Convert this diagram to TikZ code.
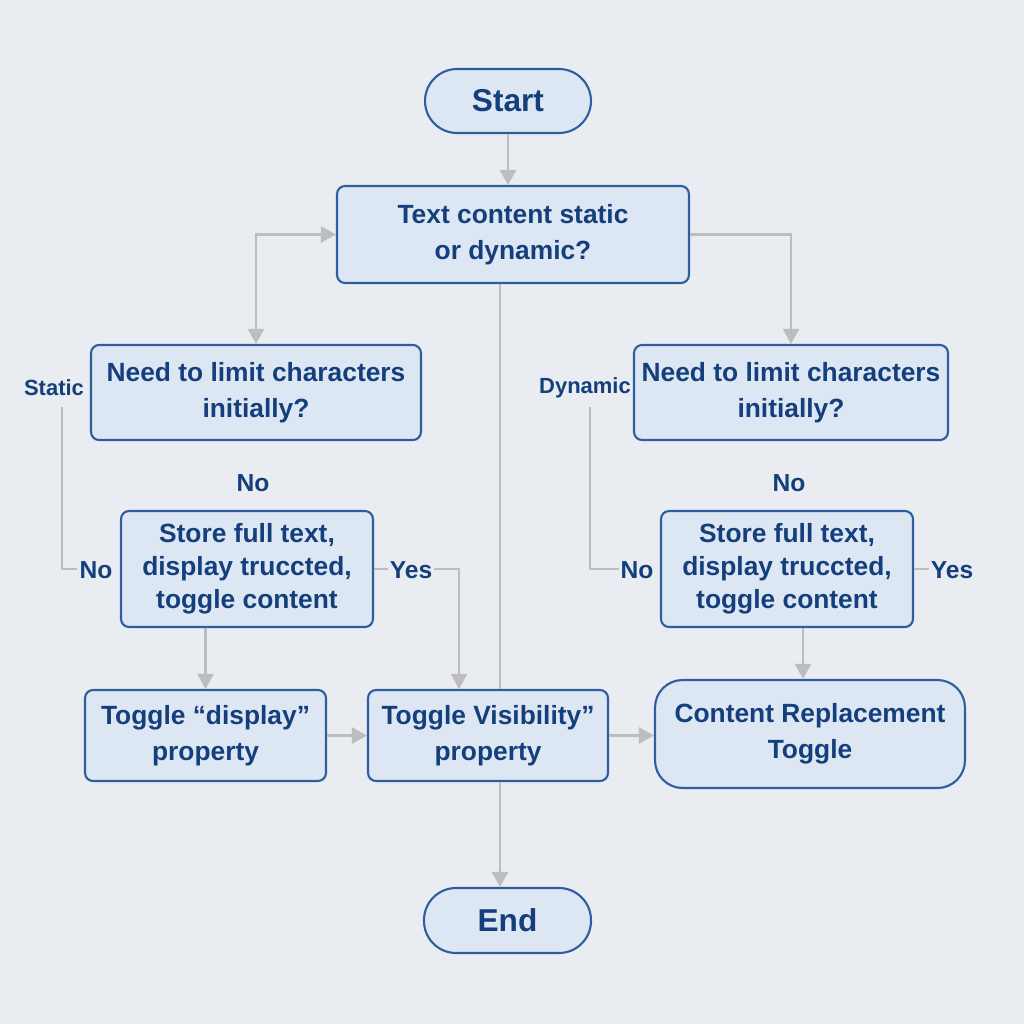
\documentclass[tikz,border=0pt]{standalone}
\usepackage{fontspec}
\setmainfont{Liberation Sans}
\usetikzlibrary{arrows.meta}
\definecolor{fondo}{HTML}{E9ECF0}
\definecolor{relleno}{HTML}{DDE7F3}
\definecolor{borde}{HTML}{2E5E9F}
\definecolor{texto}{HTML}{143F7C}
\definecolor{gris}{HTML}{BDBDBD}
\tikzset{
  caja/.style={draw=borde, fill=relleno, line width=1.2pt, rounded corners=0.16cm,
    align=center, text=texto, inner sep=2pt,
    font=\bfseries\fontsize{15}{20.5}\selectfont},
  tres/.style={caja, font=\bfseries\fontsize{15}{18.7}\selectfont},
  terminal/.style={caja, rounded corners=0.64cm, font=\bfseries\fontsize{18}{20}\selectfont},
  etiqueta/.style={text=texto, inner sep=1pt, font=\bfseries\fontsize{14}{16}\selectfont},
  chica/.style={etiqueta, font=\bfseries\fontsize{12.5}{14}\selectfont},
  linea/.style={draw=gris, line width=1.3pt},
  flecha/.style={linea, -{Triangle[width=0.32cm,length=0.3cm]}},
}
\begin{document}
\begin{tikzpicture}[x=0.02cm, y=-0.02cm]
        % Fondo
        \fill[fondo] (0,0) rectangle (1024,1024);
        % Nodos
        \node[terminal, minimum width=3.32cm, minimum height=1.28cm] (inicio) at (508,101) {Start};
        \node[caja, minimum width=7.04cm, minimum height=1.94cm] (pregunta) at (513,234.5) {Text content static\\or dynamic?};
        \node[caja, minimum width=6.6cm, minimum height=1.9cm] (limiteA) at (256,392.5) {Need to limit characters\\initially?};
        \node[caja, minimum width=6.28cm, minimum height=1.9cm] (limiteB) at (791,392.5) {Need to limit characters\\initially?};
        \node[tres, minimum width=5.04cm, minimum height=2.32cm] (almacenA) at (247,569) {Store full text,\\display truccted,\\toggle content};
        \node[tres, minimum width=5.04cm, minimum height=2.32cm] (almacenB) at (787,569) {Store full text,\\display truccted,\\toggle content};
        \node[caja, minimum width=4.82cm, minimum height=1.82cm] (pantalla) at (205.5,735.5) {Toggle “display”\\property};
        \node[caja, minimum width=4.8cm, minimum height=1.82cm] (visib) at (488,735.5) {Toggle Visibility”\\property};
        \node[caja, rounded corners=0.55cm, minimum width=6.2cm, minimum height=2.16cm] (reemplazo) at (810,734) {Content Replacement\\Toggle};
        \node[terminal, minimum width=3.34cm, minimum height=1.3cm] (fin) at (507.5,920.5) {End};
        % Etiquetas
        \node[chica] (estatico) at (54,388) {Static};
        \node[chica] (dinamico) at (585,388) {Dynamic};
        \node[etiqueta] (noArriba) at (253,483) {No};
        \node[etiqueta] (noAbajo) at (789,483) {No};
        \node[etiqueta] (noA) at (96,570) {No};
        \node[etiqueta] (siA) at (411,570) {Yes};
        \node[etiqueta] (noB) at (637,570) {No};
        \node[etiqueta] (siB) at (952,570) {Yes};
        % Puntos de apoyo
        \coordinate (eje) at (500,0);
        \coordinate (bajaA) at (62,407);
        \coordinate (bajaB) at (590,407);
        \coordinate (baja) at (459,0);
        \coordinate (bajaC) at (803,0);
        % Flechas
        \draw[flecha] (inicio.south) -- (inicio.south |- pregunta.north);
        \draw[linea, {Triangle[width=0.32cm,length=0.3cm]}-{Triangle[width=0.32cm,length=0.3cm]}] (pregunta.west) -| (limiteA.north);
        \draw[flecha] (pregunta.east) -| (limiteB.north);
        \draw[linea] (pregunta.south -| eje) -- (visib.north -| eje);
        \draw[flecha] (visib.south -| eje) -- (fin.north -| eje);
        \draw[linea] (bajaA) |- (noA.west |- almacenA.east);
        \draw[linea] (bajaB) |- (noB.west |- almacenB.east);
        \draw[linea] (almacenA.east) -- (almacenA.east -| siA.west);
        \draw[flecha] (siA.east |- almacenA.east) -| (visib.north -| baja);
        \draw[linea] (almacenB.east) -- (almacenB.east -| siB.west);
        \draw[flecha] (pantalla.north |- almacenA.south) -- (pantalla.north);
        \draw[flecha] (almacenB.south -| bajaC) -- (reemplazo.north -| bajaC);
        \draw[flecha] (pantalla.east) -- (visib.west);
        \draw[flecha] (visib.east) -- (visib.east -| reemplazo.west);
    \end{tikzpicture}
\end{document}
